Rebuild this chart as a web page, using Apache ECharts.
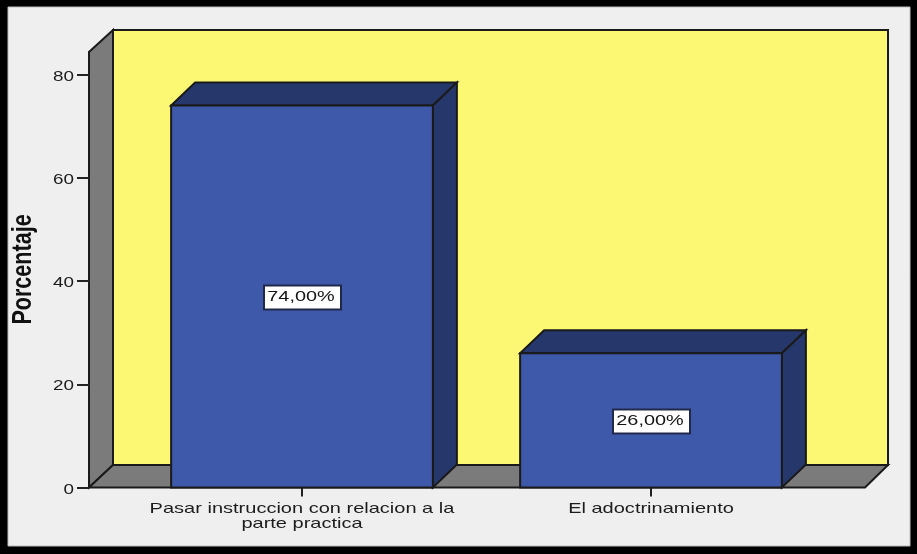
<!DOCTYPE html>
<html><head><meta charset="utf-8">
<style>html,body{margin:0;padding:0;background:#000}#c{width:917px;height:554px}</style>
<script src="https://cdn.jsdelivr.net/npm/echarts@6/dist/echarts.min.js"></script>
</head><body><div id="c"></div>
<script>
var categories = ['Pasar instruccion con relacion a la\nparte practica', 'El adoctrinamiento'];
var values = [74, 26];
var valueLabels = ['74,00%', '26,00%'];
var yTicks = [0, 20, 40, 60, 80];
var yTitle = 'Porcentaje';
var yMax = 84.36;

var DX = 24, DY = -23;
var INK = '#1a1a1a';
var FONT = '14.5px "Liberation Sans"';
var chart = echarts.init(document.getElementById('c'), null, {renderer: 'canvas'});
function poly(pts, fill, z) {
  return {type: 'polygon', shape: {points: pts}, z2: z || 0,
    style: {fill: fill, stroke: INK, lineWidth: 2, lineJoin: 'miter'}};
}
chart.setOption({
  animation: false,
  backgroundColor: '#000000',
  graphic: [
    {type: 'rect', z: -10, shape: {x: 8, y: 7, width: 902, height: 539},
     style: {fill: '#efefef', stroke: '#bdbdbd', lineWidth: 1}},
    {type: 'polygon', z: -9, shape: {points: [[113, 30], [888, 30], [888, 465], [113, 465]]},
     style: {fill: '#fcf873', stroke: INK, lineWidth: 2}},
    {type: 'polygon', z: -9, shape: {points: [[89, 52], [113, 30], [113, 465], [89, 487.5]]},
     style: {fill: '#7b7b7b', stroke: INK, lineWidth: 2}},
    {type: 'polygon', z: -9, shape: {points: [[89, 487.5], [113, 465], [888, 465], [865, 487.5]]},
     style: {fill: '#7b7b7b', stroke: INK, lineWidth: 2}},
    {type: 'text', z: 5, x: 37, y: 269.5, rotation: Math.PI / 2, scaleX: 0.77, scaleY: 1,
     style: {text: yTitle, align: 'center', verticalAlign: 'bottom', fill: '#111',
       font: 'bold 28px "Liberation Sans"'}}
  ],
  grid: {left: 127.5, right: 91.5, top: 52, bottom: 66.5, containLabel: false},
  xAxis: {
    type: 'category', data: categories,
    axisLine: {show: false},
    axisTick: {show: true, alignWithLabel: true, length: 9, lineStyle: {color: '#222', width: 2}},
    axisLabel: {show: false}
  },
  yAxis: {
    type: 'value', min: 0, max: yMax, offset: 38.5,
    splitLine: {show: false},
    axisLine: {show: true, lineStyle: {color: INK, width: 2}},
    axisTick: {show: true, length: 12, customValues: yTicks, lineStyle: {color: '#222', width: 2}},
    axisLabel: {show: false}
  },
  series: [{
    type: 'custom',
    data: values.map(function (v, i) { return [i, v]; }),
    encode: {x: 0, y: 1},
    clip: false,
    renderItem: function (params, api) {
      var i = api.value(0), v = api.value(1);
      var top = api.coord([i, v]), base = api.coord([i, 0]);
      var w = api.size([1, 0])[0] * 0.75;
      var l = top[0] - w / 2, r = top[0] + w / 2, t = top[1], b = base[1];
      var my = (t + b) / 2 + 1;
      return {type: 'group', children: [
        poly([[l, t], [l + DX, t + DY], [r + DX, t + DY], [r, t]], '#26376c', 1),
        poly([[r, t], [r + DX, t + DY], [r + DX, b + DY], [r, b]], '#26376c', 1),
        poly([[l, t], [r, t], [r, b], [l, b]], '#3e59aa', 2),
        {type: 'rect', z2: 9, shape: {x: top[0] - 38, y: my - 12, width: 77, height: 24},
         style: {fill: '#ffffff', stroke: '#20294a', lineWidth: 2}},
        {type: 'text', z2: 10, x: top[0] - 1, y: my, scaleX: 1.37, scaleY: 1,
         style: {text: valueLabels[params.dataIndex], align: 'center', verticalAlign: 'middle',
           fill: '#151515', font: FONT}},
        {type: 'text', z2: 10, x: top[0], y: b + 14, scaleX: 1.38, scaleY: 1,
         style: {text: categories[params.dataIndex], align: 'center', verticalAlign: 'top',
           fill: '#1c1c1c', font: FONT, lineHeight: 15}}
      ]};
    }
  }, {
    type: 'custom',
    data: yTicks.map(function (v) { return [0, v]; }),
    encode: {y: 1},
    clip: false,
    silent: true,
    renderItem: function (params, api) {
      var p = api.coord([0, api.value(1)]);
      return {type: 'text', x: 74, y: p[1] + 2, scaleX: 1.3, scaleY: 1,
        style: {text: String(api.value(1)), align: 'right', verticalAlign: 'middle',
          fill: '#1c1c1c', font: FONT}};
    }
  }]
});
</script></body></html>
